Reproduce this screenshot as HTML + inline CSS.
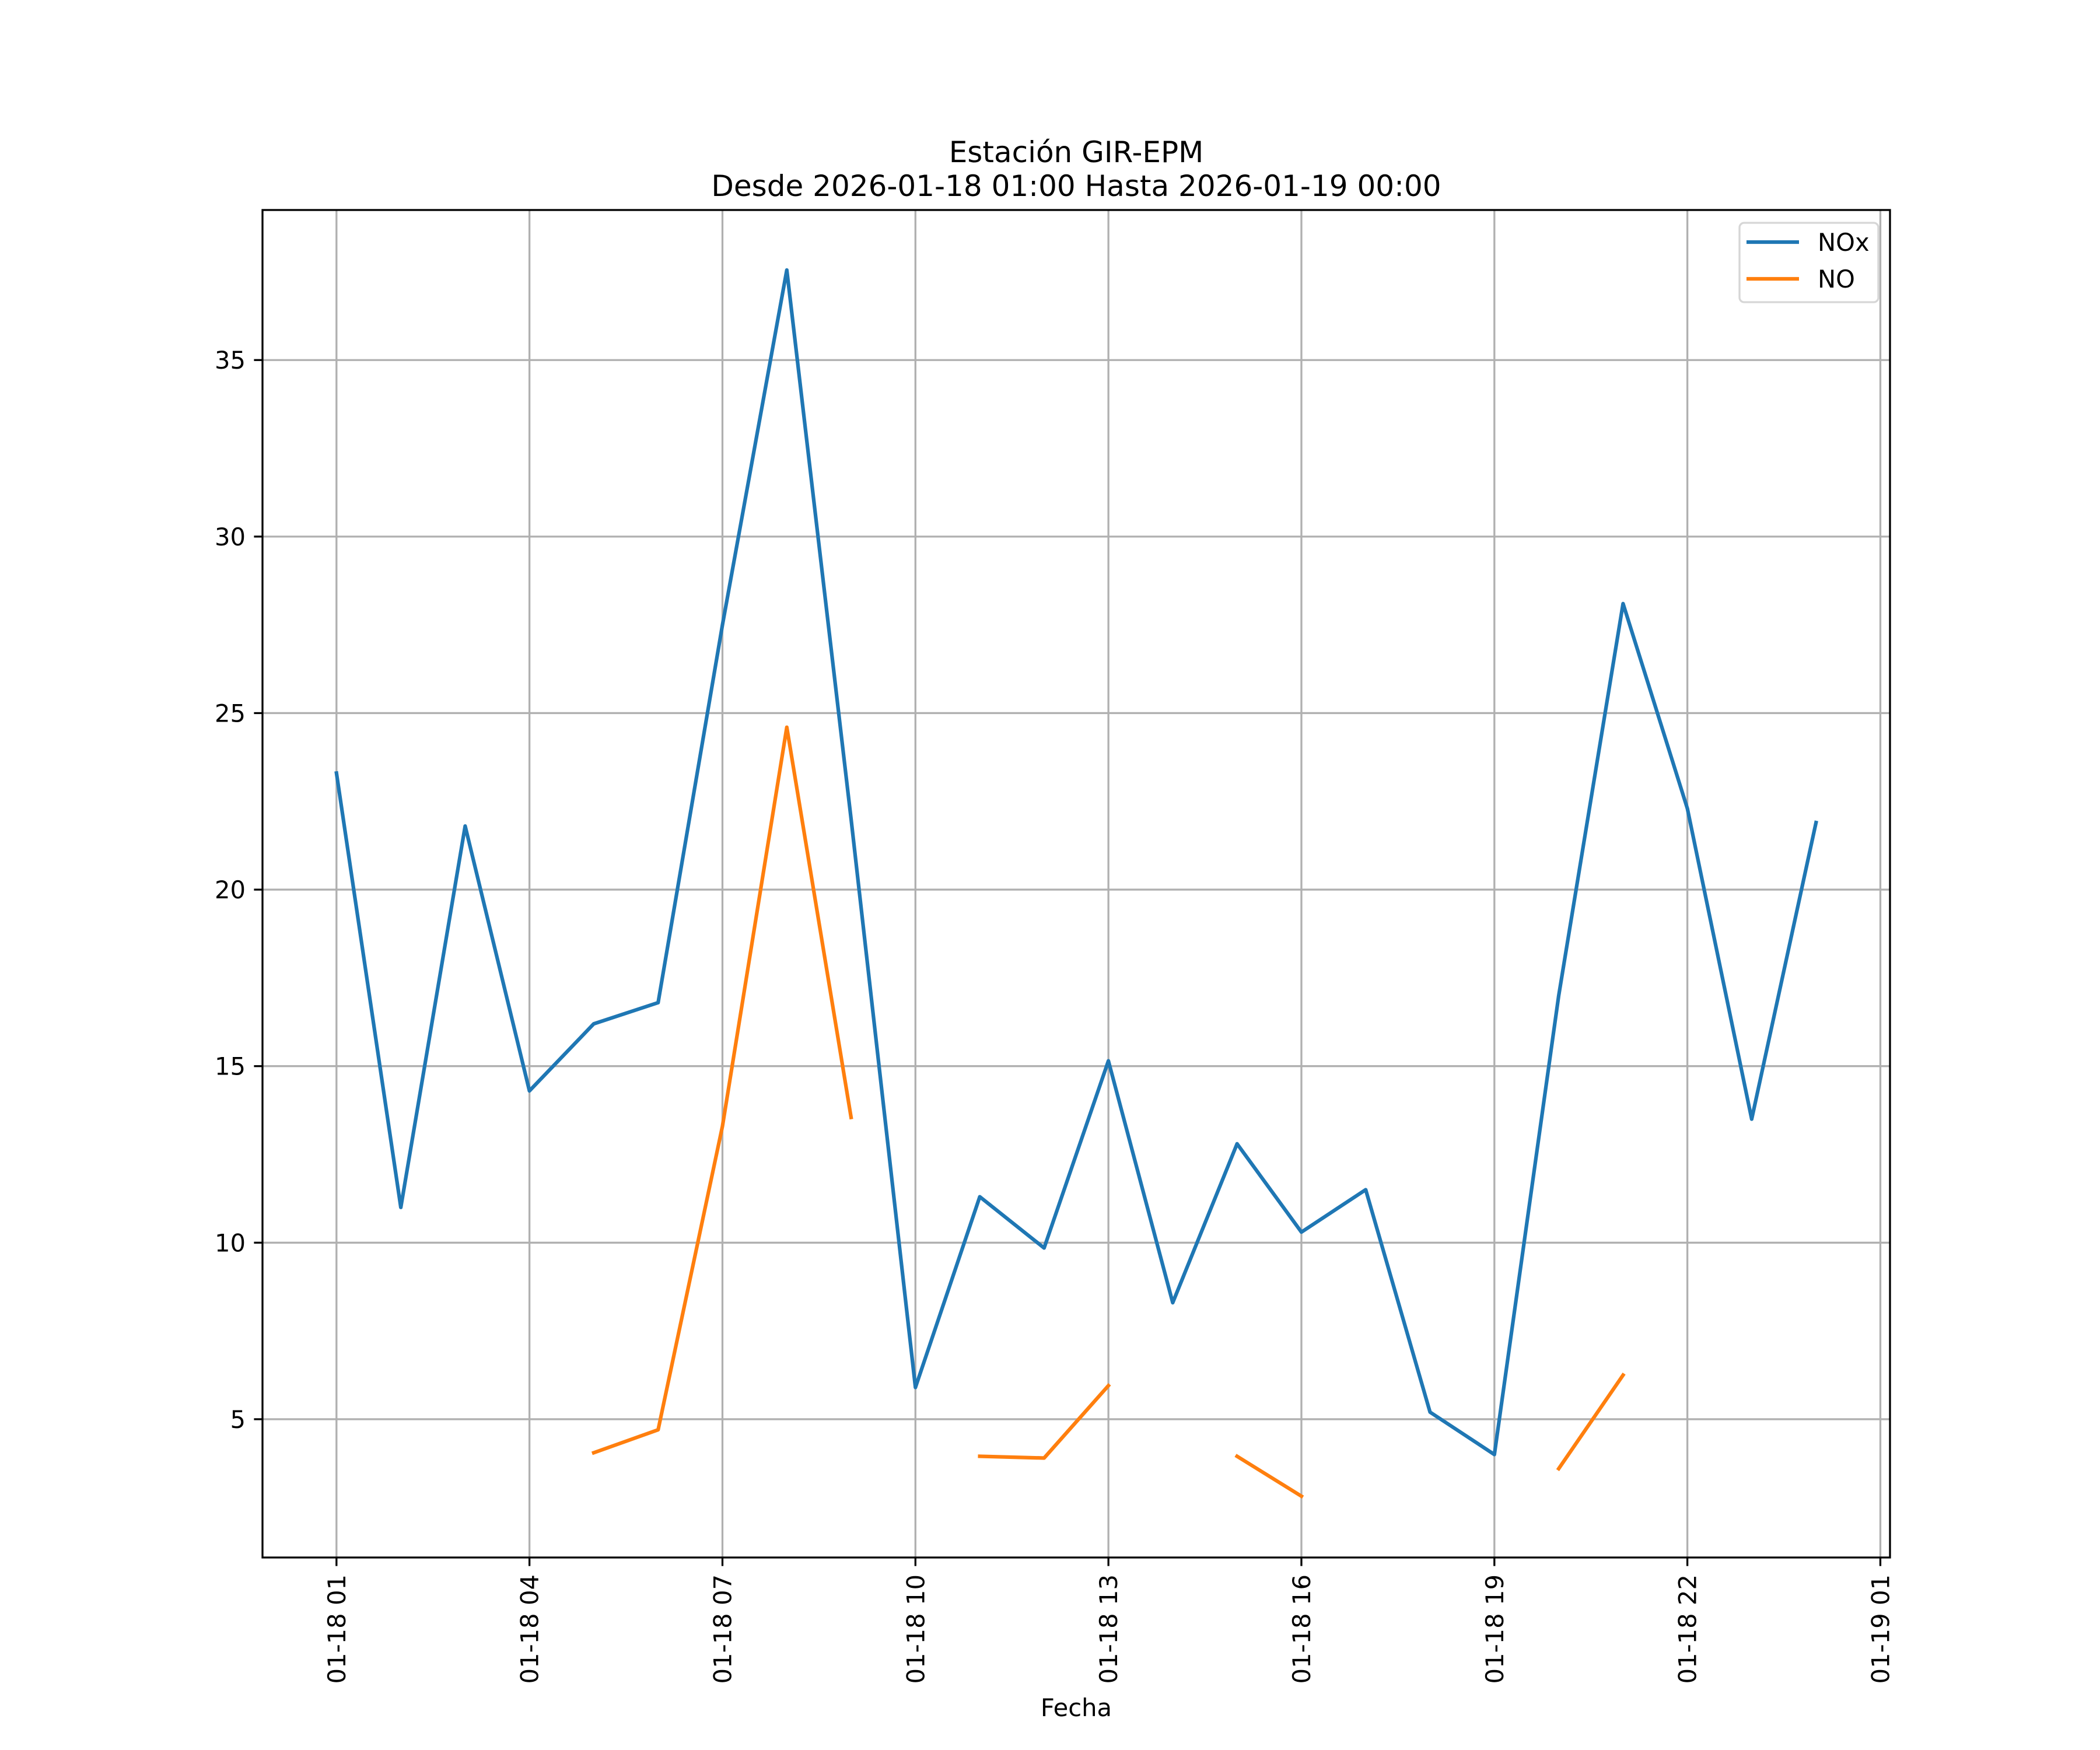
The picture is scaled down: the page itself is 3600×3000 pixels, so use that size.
<!DOCTYPE html>
<html><head><meta charset="utf-8"><style>
html,body{margin:0;padding:0;background:#fff;}
svg{display:block;font-family:"DejaVu Sans","Liberation Sans",sans-serif;}
</style></head><body>
<svg id="chart" width="3600" height="3000" viewBox="0 0 3600 3000">
<rect width="3600" height="3000" fill="#fff"/>
<text x="1845" y="278" font-size="50" text-anchor="middle">Estación GIR-EPM</text>
<text x="1845" y="336" font-size="50" text-anchor="middle">Desde 2026-01-18 01:00 Hasta 2026-01-19 00:00</text>
<g id="grid"></g>
<g id="series"></g>
<rect x="450" y="360" width="2790" height="2310" fill="none" stroke="#000" stroke-width="3.3"/>
<g id="ticks"></g>
<text x="1845" y="2942" font-size="41.7" text-anchor="middle">Fecha</text>
<g>
<rect x="2982" y="382" width="238" height="136" rx="8" fill="#fff" fill-opacity="0.8" stroke="#d6d6d6" stroke-width="3.3"/>
<line x1="2994" y1="415" x2="3084" y2="415" stroke="#1f77b4" stroke-width="6.25"/>
<text x="3116" y="430" font-size="41.7">NOx</text>
<line x1="2994" y1="478" x2="3084" y2="478" stroke="#ff7f0e" stroke-width="6.25"/>
<text x="3116" y="493" font-size="41.7">NO</text>
</g>
</svg>
<script>
const hours = [1,2,3,4,5,6,7,8,9,10,11,12,13,14,15,16,17,18,19,20,21,22,23,24];
const noxValues = [23.3,11.0,21.8,14.3,16.2,16.8,27.5,37.55,22.0,5.9,11.3,9.85,15.15,8.3,12.8,10.3,11.5,5.2,4.0,17.0,28.1,22.3,13.5,21.9];
const noValues = [null,null,null,null,4.05,4.7,13.3,24.6,13.55,null,3.95,3.9,5.95,null,3.95,2.82,null,null,null,3.6,6.25,null,null,null];
const yTicks = [5,10,15,20,25,30,35];
const xTickHours = [1,4,7,10,13,16,19,22,25];
const xTickLabels = ["01-18 01","01-18 04","01-18 07","01-18 10","01-18 13","01-18 16","01-18 19","01-18 22","01-19 01"];

const L=450,R=3240,T=360,B=2670;
const xmin=-0.15,xmax=25.15,ymin=1.083,ymax=39.25;
const xs=h=>L+(h-xmin)/(xmax-xmin)*(R-L);
const ys=v=>B-(v-ymin)/(ymax-ymin)*(B-T);
const NS="http://www.w3.org/2000/svg";
function mk(tag,attrs,parent){const e=document.createElementNS(NS,tag);for(const k in attrs)e.setAttribute(k,attrs[k]);parent.appendChild(e);return e;}
const grid=document.getElementById('grid'),ticks=document.getElementById('ticks'),series=document.getElementById('series');

yTicks.forEach(v=>{
  const y=ys(v);
  const g=mk('line',{x1:L,x2:R,y1:y,y2:y,stroke:'#b0b0b0','stroke-width':3.3},grid);
  
  
  const t=mk('line',{x1:L-14.6,x2:L,y1:y,y2:y,stroke:'#000','stroke-width':3.3},ticks);
  
  
  const tx=mk('text',{x:L-29,y:y+15,'font-size':41.7,'text-anchor':'end'},ticks);
  tx.textContent=v;
  
  
});
xTickHours.forEach((h,i)=>{
  const x=xs(h);
  const g=mk('line',{x1:x,x2:x,y1:T,y2:B,stroke:'#b0b0b0','stroke-width':3.3},grid);
  
  
  const t=mk('line',{x1:x,x2:x,y1:B,y2:B+14.6,stroke:'#000','stroke-width':3.3},ticks);
  
  
  const tx=mk('text',{x:0,y:0,'font-size':41.7,'text-anchor':'end',transform:`translate(${x+15},${B+29}) rotate(-90)`},ticks);
  tx.textContent=xTickLabels[i];
  
  
});
function drawSeries(vals,color,name){
  let segs=[],cur=[];
  vals.forEach((v,i)=>{if(v==null){if(cur.length)segs.push(cur);cur=[];}else cur.push([xs(hours[i]),ys(v)]);});
  if(cur.length)segs.push(cur);
  const d=segs.map(s=>'M'+s.map(p=>p[0].toFixed(1)+','+p[1].toFixed(1)).join('L')).join('');
  const p=mk('path',{d:d,fill:'none',stroke:color,'stroke-width':6.25,'stroke-linejoin':'round','stroke-linecap':'square'},series);
  
  
}
drawSeries(noxValues,'#1f77b4','nox-line');
drawSeries(noValues,'#ff7f0e','no-line');
</script>
</body></html>
